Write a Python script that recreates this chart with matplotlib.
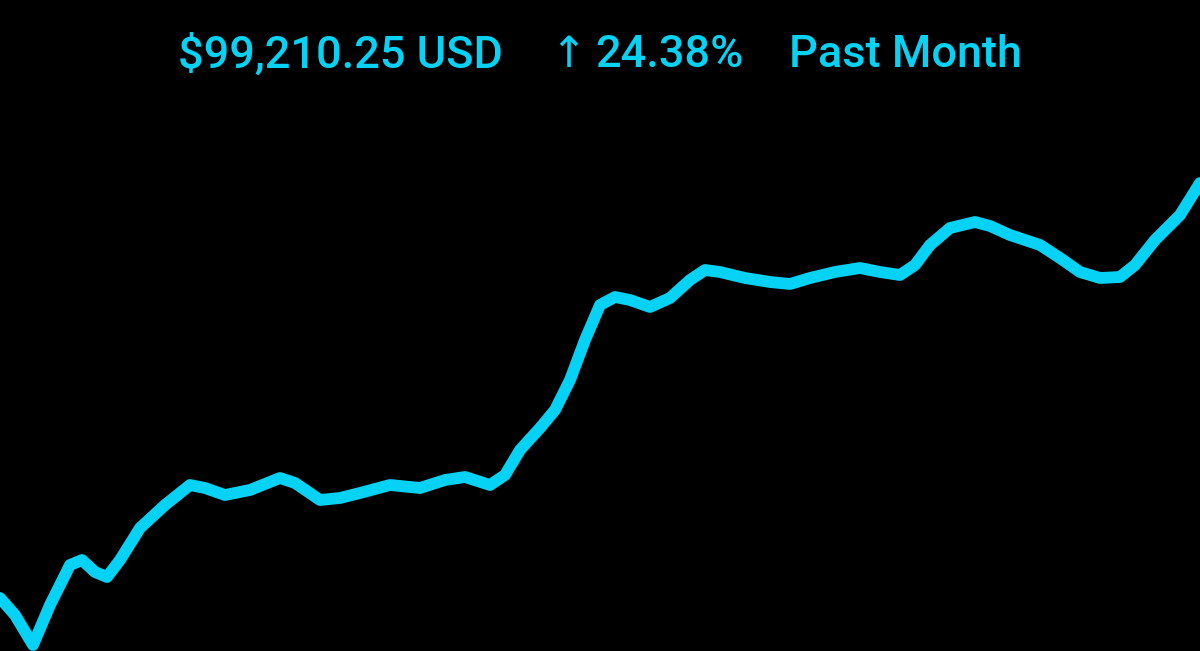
#!/usr/bin/env python3

import matplotlib.pyplot as plt

# day of month vs price (USD)
days = [0, 0.375, 0.825, 1.25, 1.75, 2.05, 2.375, 2.675, 3, 3.5,
        4.125, 4.75, 5.125, 5.625, 6.25, 7, 7.375, 8, 8.5, 9,
        9.75, 10.5, 11.125, 11.625, 12.25, 12.625, 13, 13.5, 13.875, 14.25,
        14.625, 15, 15.375, 15.75, 16.25, 16.75, 17.25, 17.625, 18, 18.625,
        19.25, 19.75, 20.25, 20.875, 21.5, 22, 22.5, 22.875, 23.25, 23.75,
        24.375, 24.75, 25.25, 26, 26.5, 27, 27.5, 28, 28.375, 28.875,
        29.5, 30]
price = [79764, 78967, 77561, 79436, 81310, 81544, 80982, 80748, 81544, 83044,
         84122, 85059, 84918, 84590, 84825, 85387, 85153, 84356, 84450, 84684,
         85059, 84918, 85293, 85434, 85059, 85527, 86699, 87730, 88573, 89979,
         91854, 93494, 93869, 93728, 93400, 93822, 94665, 95134, 95040, 94759,
         94571, 94478, 94759, 95040, 95228, 95040, 94899, 95368, 96305, 97102,
         97383, 97196, 96774, 96305, 95696, 95040, 94759, 94806, 95368, 96540,
         97711, 99210]

last_price = '$99,210.25 USD'
change = '24.38%'
period = 'Past Month'
cyan = '#05D2F5'

fig = plt.figure(figsize=(12, 6.51), dpi=100, facecolor='black')
ax = fig.add_axes([0, 0, 1, 1])
ax.set_facecolor('black')
ax.plot(days, price, color=cyan, lw=8.5, solid_joinstyle='round',
        solid_capstyle='round')
ax.set_xlim(0, 30)
ax.set_ylim(77280, 107786)
ax.axis('off')

ty = 1 - 55 / 651
style = dict(color=cyan, fontsize=32.5, fontweight='medium',
             family=['Roboto', 'DejaVu Sans'], va='center')
fig.text(178 / 1200, ty, last_price, ha='left', **style)
fig.text(595 / 1200, ty, change, ha='left', **style)
fig.text(789 / 1200, ty, period, ha='left', **style)
# the arrow is thinner than the figures
fig.text(568 / 1200, ty, '\u2191', ha='center', va='center', color=cyan,
         fontsize=31, family=['DejaVu Sans'])

plt.savefig('out.png', dpi=100, facecolor='black')
